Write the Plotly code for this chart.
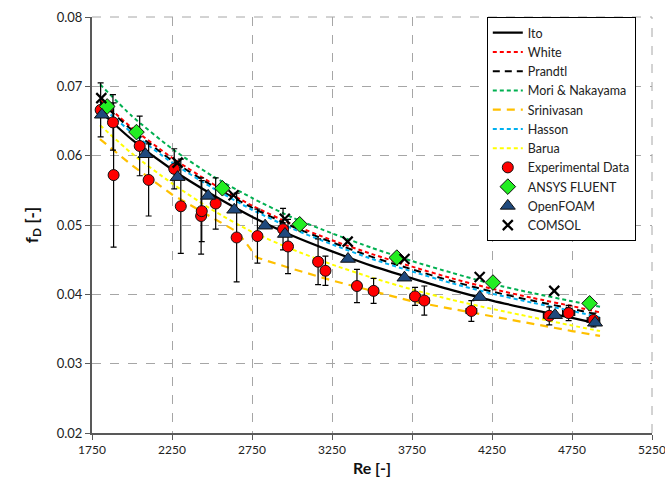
import plotly.graph_objects as go

# ---------------- data ----------------
re_curve = [1800, 2000, 2250, 2500, 2750, 3000, 3250, 3500, 3750, 4000, 4250, 4500, 4750, 4925]
ito = [0.0664, 0.0623, 0.0580, 0.0544, 0.0512, 0.0485, 0.0462, 0.0441, 0.0423, 0.0406, 0.0391, 0.0378, 0.0366, 0.0357]
white = [0.0681, 0.0640, 0.0597, 0.0560, 0.0528, 0.0501, 0.0478, 0.0458, 0.0440, 0.0423, 0.0408, 0.0395, 0.0383, 0.0374]
prandtl = [0.0678, 0.0637, 0.0593, 0.0557, 0.0525, 0.0498, 0.0475, 0.0454, 0.0436, 0.0419, 0.0404, 0.0391, 0.0379, 0.0370]
mori = [0.0703, 0.0657, 0.0610, 0.0571, 0.0539, 0.0511, 0.0488, 0.0467, 0.0448, 0.0431, 0.0415, 0.0402, 0.0390, 0.0382]
hasson = [0.0673, 0.0633, 0.0590, 0.0554, 0.0522, 0.0495, 0.0472, 0.0451, 0.0433, 0.0416, 0.0401, 0.0388, 0.0376, 0.0367]
barua = [0.0644, 0.0603, 0.0560, 0.0522, 0.0490, 0.0465, 0.0443, 0.0424, 0.0407, 0.0392, 0.0379, 0.0367, 0.0355, 0.0347]

re_srini = [1800, 2000, 2250, 2500, 2650, 2700, 2780, 3000, 3250, 3500, 3750, 4000, 4250, 4500, 4750, 4925]
srinivasan = [0.0624, 0.0586, 0.0544, 0.0511, 0.0491, 0.0478, 0.0453, 0.0437, 0.0420, 0.0405, 0.0390, 0.0379, 0.0368, 0.0357, 0.0347, 0.0340]

exp_re = [1804, 1881, 1885, 2048, 2104, 2264, 2305, 2432, 2436, 2523, 2654, 2784, 2944, 2975,
          3163, 3209, 3406, 3510, 3769, 3827, 4121, 4608, 4729, 4884]
exp_f = [0.0666, 0.0648, 0.0572, 0.0614, 0.0565, 0.0581, 0.0527, 0.0513, 0.0520, 0.0531, 0.0482, 0.0484,
         0.0494, 0.0469, 0.0447, 0.0434, 0.0412, 0.0405, 0.0397, 0.0391, 0.0376, 0.0369, 0.0373, 0.0363]
exp_err = [0.0039, 0.0040, 0.0104, 0.0043, 0.0052, 0.0029, 0.0068, 0.0055, 0.0044, 0.0037, 0.0064, 0.0039,
           0.0030, 0.0039, 0.0033, 0.0021, 0.0024, 0.0018, 0.0013, 0.0021, 0.0015, 0.0013, 0.0011, 0.0010]

ansys_re = [1845, 2028, 2565, 3048, 3655, 4256, 4860]
ansys_f = [0.0671, 0.0634, 0.0553, 0.0501, 0.0453, 0.0417, 0.0387]

foam_re = [1812, 2084, 2285, 2476, 2639, 2832, 2956, 3350, 3703, 4173, 4644, 4894]
foam_f = [0.0659, 0.0602, 0.0569, 0.0542, 0.0522, 0.0499, 0.0487, 0.0451, 0.0424, 0.0396, 0.0370, 0.0359]

comsol_re = [1808, 2285, 2635, 2955, 3348, 3703, 4173, 4639]
comsol_f = [0.0683, 0.0590, 0.0543, 0.0509, 0.0476, 0.0451, 0.0425, 0.0405]

x_ticks = [1750, 2250, 2750, 3250, 3750, 4250, 4750, 5250]
y_ticks = [0.02, 0.03, 0.04, 0.05, 0.06, 0.07, 0.08]

# ---------------- figure ----------------
fig = go.Figure()

def curve(x, y, name, color, dash, width=2, shape="spline"):
    fig.add_trace(go.Scatter(x=x, y=y, name=name, mode="lines",
                             line=dict(color=color, dash=dash, width=width, shape=shape, smoothing=0.6)))

curve(re_curve, ito, "Ito", "black", "solid", 2.2)
curve(re_curve, white, "White", "#FF0000", "4px,3px")
curve(re_curve, prandtl, "Prandtl", "black", "7px,5px")
curve(re_curve, mori, "Mori & Nakayama", "#00B050", "4px,3px")
curve(re_srini, srinivasan, "Srinivasan", "#FFC000", "8px,6px", 2.2, "linear")
curve(re_curve, hasson, "Hasson", "#00B0F0", "4px,3px")
curve(re_curve, barua, "Barua", "#FFFF00", "4px,3px")

fig.add_trace(go.Scatter(
    x=exp_re, y=exp_f, name="Experimental Data", mode="markers",
    marker=dict(symbol="circle", size=11, color="#FF0000", line=dict(color="#111111", width=1)),
    error_y=dict(type="data", array=exp_err, color="black", thickness=1.2, width=3),
    error_x=dict(type="percent", value=0.8, color="black", thickness=1.2, width=3)))

fig.add_trace(go.Scatter(
    x=ansys_re, y=ansys_f, name="ANSYS FLUENT", mode="markers",
    marker=dict(symbol="diamond", size=12, color="#22EE22", line=dict(color="#111111", width=1))))

fig.add_trace(go.Scatter(
    x=foam_re, y=foam_f, name="OpenFOAM", mode="markers",
    marker=dict(symbol="triangle-up", size=13, color="#1F497D", line=dict(color="#111111", width=1))))

fig.add_trace(go.Scatter(
    x=comsol_re, y=comsol_f, name="COMSOL", mode="markers",
    marker=dict(symbol="x-thin", size=10, color="black", line=dict(color="black", width=2.2))))

font_family = "Lato, 'Open Sans', sans-serif"

fig.update_layout(
    width=665, height=486,
    margin=dict(l=92, r=13, t=17, b=53),
    paper_bgcolor="white", plot_bgcolor="white",
    font=dict(family=font_family, size=13, color="#222222"),
    showlegend=True,
    legend=dict(x=0.705, y=1.0, xanchor="left", yanchor="top",
                bgcolor="white", bordercolor="black", borderwidth=1,
                font=dict(size=12.5, color="#222222"), tracegroupgap=0, itemwidth=30),
    xaxis=dict(range=[1750, 5250], tickvals=x_ticks, ticktext=[str(v) for v in x_ticks],
               automargin=False, ticklabeloverflow="allow",
               showgrid=True, gridcolor="#A6A6A6", griddash="dash", gridwidth=1,
               showline=True, linecolor="#595959", linewidth=2,
               ticks="outside", ticklen=5, tickcolor="#595959",
               tickfont=dict(size=12),
               zeroline=False,
               title=dict(text="<b>Re [-]</b>", font=dict(size=16, color="#111111"), standoff=6)),
    yaxis=dict(range=[0.02, 0.08], tickvals=y_ticks, ticktext=["%.2f" % v for v in y_ticks],
               automargin=False,
               showgrid=True, gridcolor="#A6A6A6", griddash="dash", gridwidth=1,
               showline=True, linecolor="#595959", linewidth=2,
               ticks="outside", ticklen=5, tickcolor="#595959",
               tickfont=dict(size=13),
               zeroline=False,
               title=dict(text="<b>f<sub>D</sub> [-]</b>", font=dict(size=17, color="#111111"), standoff=14)),
    shapes=[
        dict(type="line", xref="paper", yref="paper", x0=0, x1=1, y0=1, y1=1,
             line=dict(color="#A6A6A6", width=1, dash="dash")),
        dict(type="line", xref="paper", yref="paper", x0=1, x1=1, y0=0, y1=1,
             line=dict(color="#A6A6A6", width=1, dash="dash")),
    ],
)

fig.write_html("out.html", config={"displayModeBar": False},
               post_script="document.body.style.margin='0';document.body.style.overflow='hidden';")
